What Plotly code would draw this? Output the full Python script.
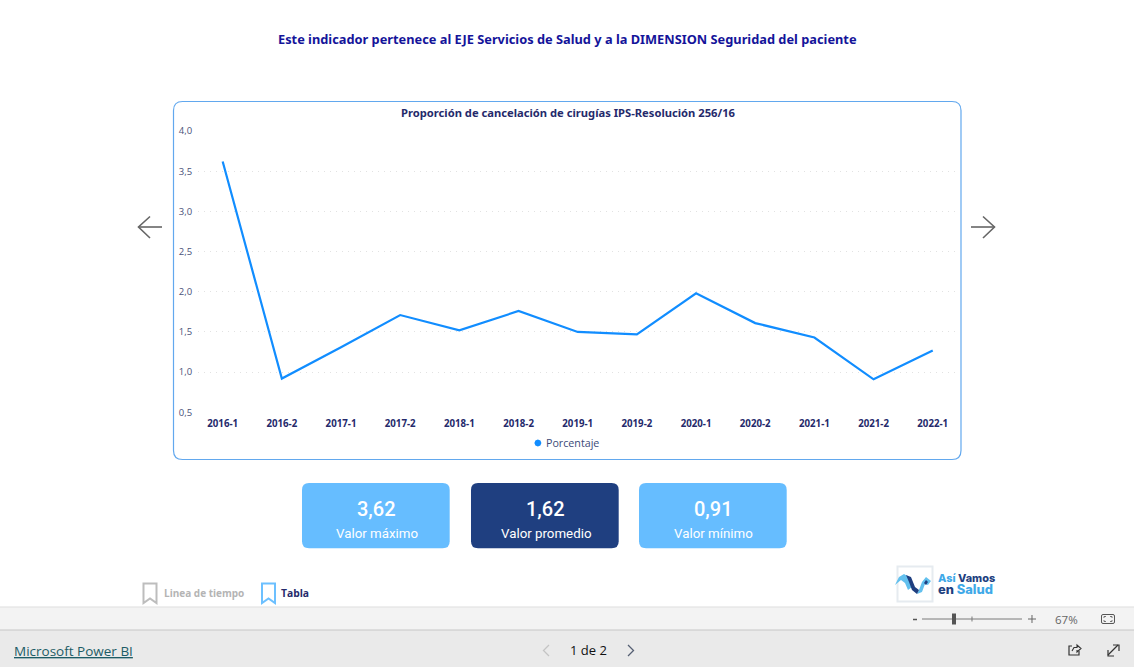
import plotly.graph_objects as go

# ---- data ----
periods = ["2016-1", "2016-2", "2017-1", "2017-2", "2018-1", "2018-2", "2019-1",
           "2019-2", "2020-1", "2020-2", "2021-1", "2021-2", "2022-1"]
porcentaje = [3.62, 0.92, 1.31, 1.71, 1.52, 1.76, 1.50, 1.47, 1.98, 1.61, 1.43, 0.91, 1.27]
y_ticks = [0.5, 1.0, 1.5, 2.0, 2.5, 3.0, 3.5, 4.0]
kpi_values = ["3,62", "1,62", "0,91"]
kpi_labels = ["Valor máximo", "Valor promedio", "Valor mínimo"]

W, H = 1134, 667
NAVY = "#252a6b"
BODY = "Open Sans"


def px(x):
    return x / W


def py(y):
    return 1 - y / H


def path(points, close=False):
    s = "M " + " L ".join(f"{px(x):.5f},{py(y):.5f}" for x, y in points)
    return s + (" Z" if close else "")


def round_rect(x0, y0, x1, y1, r):
    a, b = px, py
    return (f"M {a(x0+r):.5f},{b(y0):.5f} L {a(x1-r):.5f},{b(y0):.5f} "
            f"Q {a(x1):.5f},{b(y0):.5f} {a(x1):.5f},{b(y0+r):.5f} "
            f"L {a(x1):.5f},{b(y1-r):.5f} Q {a(x1):.5f},{b(y1):.5f} {a(x1-r):.5f},{b(y1):.5f} "
            f"L {a(x0+r):.5f},{b(y1):.5f} Q {a(x0):.5f},{b(y1):.5f} {a(x0):.5f},{b(y1-r):.5f} "
            f"L {a(x0):.5f},{b(y0+r):.5f} Q {a(x0):.5f},{b(y0):.5f} {a(x0+r):.5f},{b(y0):.5f} Z")


shapes = []


def add_path(d, line=None, width=1.0, fill=None, layer="below"):
    shapes.append(dict(type="path", xref="paper", yref="paper", path=d, layer=layer,
                       line=dict(color=line or "rgba(0,0,0,0)", width=width if line else 0),
                       fillcolor=fill or "rgba(0,0,0,0)"))


def add_rect(x0, y0, x1, y1, fill=None, line=None, width=1.0, layer="below"):
    shapes.append(dict(type="rect", xref="paper", yref="paper", x0=px(x0), x1=px(x1),
                       y0=py(y1), y1=py(y0), layer=layer, fillcolor=fill or "rgba(0,0,0,0)",
                       line=dict(color=line or "rgba(0,0,0,0)", width=width if line else 0)))


annotations = []


def text(x, y, s, size, color, font=BODY, weight=400, anchor="center"):
    annotations.append(dict(xref="paper", yref="paper", x=px(x), y=py(y), text=s, showarrow=False,
                            xanchor=anchor, yanchor="middle", borderpad=0,
                            font=dict(family=font, size=size, color=color, weight=weight)))


# page chrome
add_rect(0, 607, W, 630, fill="#f3f3f3")
add_rect(0, 630, W, H, fill="#eaeaea")
add_path(path([(0, 607), (W, 607)]), line="#dedede", width=1)
add_path(path([(0, 630), (W, 630)]), line="#c6c6c6", width=1)

# chart card
add_path(round_rect(173.5, 101.5, 961, 459.5, 9), line="#62a8ee", width=1.2, fill="#ffffff")

# navigation arrows
for pts in ([(162, 227), (138.5, 227)], [(150, 216.5), (138.5, 227), (150, 238)],
            [(971, 227), (994.5, 227)], [(983, 216.5), (994.5, 227), (983, 238)]):
    add_path(path(pts), line="#666666", width=1.6)

# KPI cards
kpi_x = [(302, 449.7), (471, 618.7), (639, 786.7)]
kpi_fill = ["#66bdff", "#1f3f80", "#66bdff"]
for (x0, x1), fill, val, lab in zip(kpi_x, kpi_fill, kpi_values, kpi_labels):
    add_path(round_rect(x0, 483, x1, 548.3, 7), fill=fill)
    text((x0 + x1) / 2 + 1, 509, val, 20, "#ffffff", font="Roboto", weight=500)
    text((x0 + x1) / 2 + 1, 533.8, lab, 13.3, "#ffffff", font="Roboto")

# legend
add_path(path([(537.9, 439.6), (540.4, 440.6), (541.4, 443.1), (540.4, 445.6), (537.9, 446.6),
               (535.4, 445.6), (534.4, 443.1), (535.4, 440.6)], close=True), fill="#118dff")
text(544.5, 443.3, "Porcentaje", 10.7, "#3c4a78", anchor="left")

# bookmarks
for x0, x1, col in ((143.5, 156.5, "#bdbdbd"), (262, 275, "#6cc0ff")):
    xm = (x0 + x1) / 2
    add_path(path([(x0, 583.5), (x1, 583.5), (x1, 603), (xm, 598.5), (x0, 603)], close=True),
             line=col, width=2)
text(163, 593, "Linea de tiempo", 10, "#b4b4b4", weight=700, anchor="left")
text(280, 593, "Tabla", 10.3, NAVY, weight=700, anchor="left")

# logo
add_rect(897.5, 566.5, 932.5, 601.5, line="#e6ebf0", width=2)
add_path(path([(895, 585), (899, 577), (904, 574), (909, 577), (912, 587), (908, 590), (905, 583), (901, 580)],
              close=True), fill="#62c0ee", layer="above")
add_path(path([(917, 594), (919, 590), (922, 582), (926, 577), (931, 581), (928, 585), (925, 584), (922, 592)],
              close=True), fill="#62c0ee", layer="above")
add_path(path([(906, 575), (911, 577), (915, 587), (919, 590), (917, 594), (912, 590), (909, 582)],
              close=True), fill="#1f3f80", layer="above")
add_path(path([(924, 583), (926, 580), (928, 582), (926, 585)], close=True), fill="#1f3f80", layer="above")
text(937, 578, "<span style='color:#3fa9e8'>Así</span> Vamos", 10.9, "#1f3f80",
     font="Inter", weight=800, anchor="left")
text(937, 589.5, "en <span style='color:#3fa9e8'>Salud</span>", 12.9, "#1f3f80",
     font="Inter", weight=800, anchor="left")

# zoom control
add_path(path([(922, 619), (1022, 619)]), line="#7a7a7a", width=1)
add_path(path([(972, 616.5), (972, 621.5)]), line="#7a7a7a", width=1)
add_rect(952, 613.5, 956, 624.5, fill="#555555")
add_path(path([(913, 619.5), (917, 619.5)]), line="#555555", width=1.5)
add_path(path([(1028, 619), (1036, 619)]), line="#666666", width=1)
add_path(path([(1032, 615), (1032, 623)]), line="#666666", width=1)
text(1066, 619, "67%", 11.5, "#666666", anchor="center")
add_path(round_rect(1101.5, 614.5, 1114.5, 623.5, 1.5), line="#555555", width=1)
for pts in ([(1104, 618), (1104, 616.5), (1106, 616.5)], [(1110, 616.5), (1112, 616.5), (1112, 618)],
            [(1104, 620), (1104, 621.5), (1106, 621.5)], [(1110, 621.5), (1112, 621.5), (1112, 620)]):
    add_path(path(pts), line="#555555", width=0.8)

# footer
text(13, 651, "<u>Microsoft Power BI</u>", 13.5, "#1d5c66", anchor="left")
text(588, 650, "1 de 2", 13, "#111111", weight=500)
add_path(path([(549, 645), (543.5, 650.5), (549, 656)]), line="#c4c4c4", width=1.3)
add_path(path([(628, 645), (633.5, 650.5), (628, 656)]), line="#555f73", width=1.3)
# share icon
add_path(path([(1072, 646), (1069, 646), (1069, 655), (1079, 655), (1079, 651)]), line="#333333", width=1.2)
add_path(path([(1072, 651), (1074, 647.5), (1077, 647.5), (1077, 645), (1081, 648.5), (1077, 652), (1077, 650)]),
         line="#333333", width=1.1)
# expand icon
add_path(path([(1108, 655), (1118, 645)]), line="#333333", width=1.2)
add_path(path([(1113, 645), (1119, 645), (1119, 651)]), line="#333333", width=1.2)
add_path(path([(1108, 650), (1108, 656), (1114, 656)]), line="#333333", width=1.2)

# titles
text(567, 39, "Este indicador pertenece al EJE Servicios de Salud y a la DIMENSION Seguridad del paciente",
     12.8, "#14149a", font="Noto Sans", weight=700)
text(568, 113, "Proporción de cancelación de cirugías IPS-Resolución 256/16", 11.2, NAVY,
     font="Noto Sans", weight=700)

fig = go.Figure()
fig.add_trace(go.Scatter(x=periods, y=porcentaje, mode="lines", name="Porcentaje", showlegend=False,
                         line=dict(color="#118dff", width=2.2), hoverinfo="skip"))

fig.update_layout(
    width=W, height=H, autosize=False,
    margin=dict(l=0, r=0, t=0, b=0, pad=0),
    paper_bgcolor="#ffffff", plot_bgcolor="rgba(0,0,0,0)",
    separators=",.",
    shapes=shapes, annotations=annotations,
    showlegend=False,
    xaxis=dict(domain=[px(198), px(957)], type="category", range=[-0.417, 12.41], automargin=False,
               showgrid=False, zeroline=False, showline=False,
               ticks="outside", ticklen=2, tickcolor="rgba(0,0,0,0)", tickangle=0,
               tickfont=dict(family="Noto Sans", size=9.7, color=NAVY, weight=700)),
    yaxis=dict(domain=[py(412.3), py(131)], range=[0.5, 4.0], tickvals=y_ticks, tickformat=".1f",
               automargin=False,
               showgrid=True, gridcolor="#e2e2e2", griddash="1px,5px", gridwidth=1,
               zeroline=False, showline=False,
               ticks="outside", ticklen=3, tickcolor="rgba(0,0,0,0)",
               tickfont=dict(family=BODY, size=9.5, color="#4a5278")),
)

fig.write_html("out.html", post_script="document.body.style.margin='0';document.documentElement.style.overflow='hidden';",
               config={"displayModeBar": False})
